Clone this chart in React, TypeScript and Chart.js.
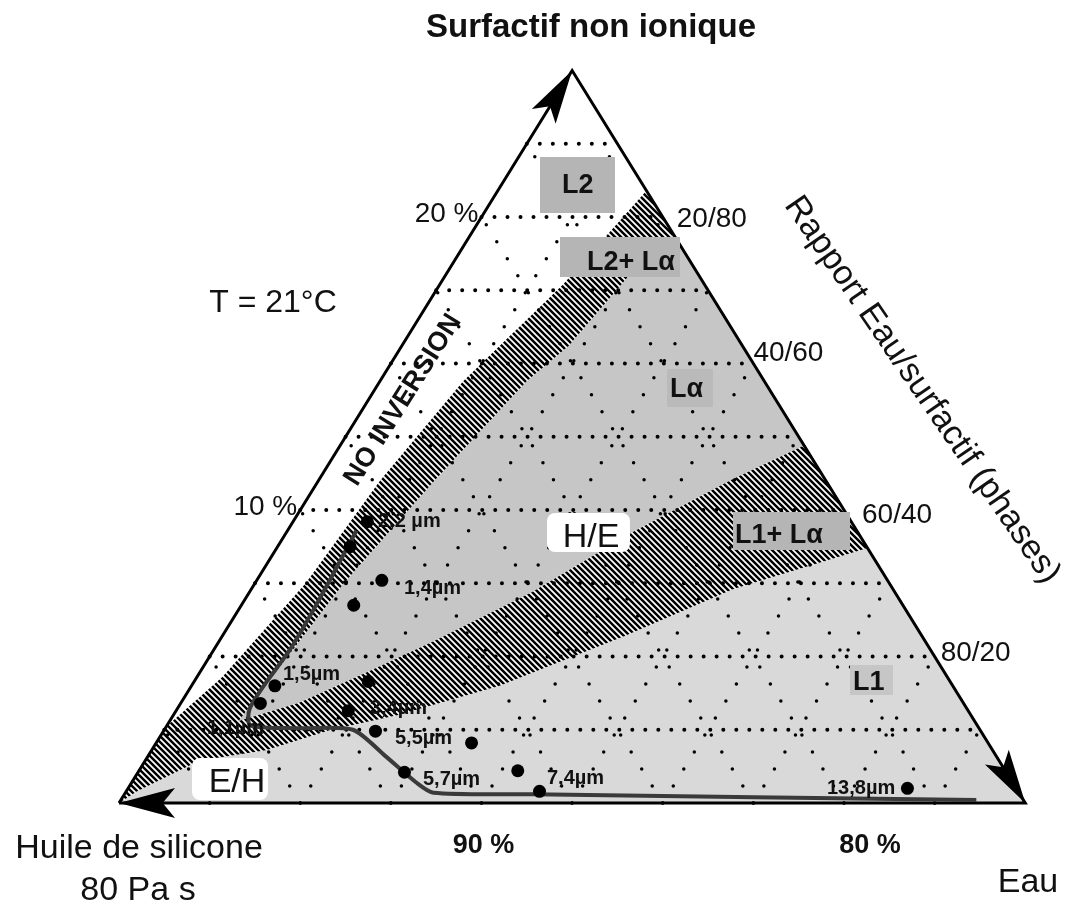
import { useEffect, useRef } from 'react';
import { Chart, registerables } from 'chart.js';

Chart.register(...registerables);

// ---------- DATA : compositions are [water %, surfactant %]; silicone oil = 100 - water - surfactant ----------
const TRIANGLE = [[0, 0], [0, 25], [25, 0], [0, 0]];
const GRID_STEPS = [2.5, 5, 7.5, 10, 12.5, 15, 17.5, 20, 22.5];

const SURF_TICKS = [10, 20];
const SURF_TICK_LABELS = ['10 %', '20 %'];
const OIL_TICKS = [90, 80];
const OIL_TICK_LABELS = ['90 %', '80 %'];
const RATIO_TICKS = [0.2, 0.4, 0.6, 0.8]; // water / (water + surfactant)
const RATIO_TICK_LABELS = ['20/80', '40/60', '60/40', '80/20'];

// phase boundaries (hatched two-phase bands)
const BAND1_LEFT = [[0, 0], [0, 2.6], [0.7, 4.3], [1.4, 7.5], [1.7, 11.0], [2.3, 14.4], [3.4, 17.7], [4.1, 20.9]];
const BAND1_RIGHT = [[5.6, 19.4], [5.05, 17.9], [4.6, 15.6], [4.05, 14.4], [3.2, 11.0], [2.45, 7.5], [2.05, 4.1], [1.9, 2.8]];
const BAND2_UPPER = [[1.9, 2.8], [3.26, 3.42], [4.6, 4.45], [5.9, 5.5], [7.8, 7.2], [9.55, 9.25], [11.4, 11.05], [12.8, 12.2]];
const BAND2_LOWER = [[16.3, 8.7], [13.3, 7.3], [11.1, 5.7], [8.5, 4.0], [6.2, 3.0], [4.6, 2.5], [3.15, 1.8], [1.5, 1.45], [0.3, 0.4], [0, 0]];

// emulsification path and measured droplets
const PATH = [[1.9, 9.3], [2.05, 6.95], [2.1, 5.25], [2.0, 4.1], [2.0, 3.2], [2.3, 2.65], [3.7, 2.55], [5.2, 2.5], [6.55, 1.6], [7.85, 0.7], [8.5, 0.35], [11.25, 0.3], [23.6, 0.1]];
const DROPLETS = [[2.05, 9.6], [2.0, 8.75], [3.45, 7.6], [3.1, 6.75], [2.3, 4.0], [2.2, 3.4], [4.8, 4.15], [4.75, 3.15], [5.85, 2.45], [8.7, 2.05], [7.35, 1.05], [10.45, 1.1], [11.4, 0.4], [21.5, 0.5]];
const SIZE_LABELS = ['2,2 µm', '1,4µm', '1,5µm', '1,1µm', '3,4µm', '5,5µm', '5,7µm', '7,4µm', '13,8µm'];

// ---------- LAYOUT ----------
const W_PX = 1074;
const H_PX = 905;
const X_MIN = -119 / 36.25;
const X_MAX = (W_PX - 119) / 36.25;
const Y_MIN = (803 - H_PX) / 29.3;
const Y_MAX = 803 / 29.3;
const FONT = '"Liberation Sans", Arial, Helvetica, sans-serif';
const INK = '#111111';

const SIZE_LABEL_POS = [[378, 527], [404, 594], [283, 680], [207, 734], [370, 714], [395, 744], [423, 785], [547, 784], [827, 794]];
const RATIO_NUDGE = [[14, 10], [0, -3], [18, 13], [6, 4]];
const OIL_NUDGE = [[2, 50], [26, 50]];

const toXY = (p: number[]) => ({ x: p[0] + p[1] / 2, y: p[1] });
const GAP = { x: null as any, y: null as any };

function makeHatch(ctx: CanvasRenderingContext2D) {
  const c = document.createElement('canvas');
  c.width = 6;
  c.height = 6;
  const g = c.getContext('2d')!;
  g.fillStyle = '#ffffff';
  g.fillRect(0, 0, 6, 6);
  g.strokeStyle = '#000000';
  g.lineWidth = 2.5;
  g.beginPath();
  for (let k = -1; k <= 1; k++) {
    g.moveTo(-2, -2 + 6 * k);
    g.lineTo(8, 8 + 6 * k);
  }
  g.stroke();
  return ctx.createPattern(c, 'repeat')!;
}

function pix(chart: any, p: number[]) {
  const q = toXY(p);
  return [chart.scales.x.getPixelForValue(q.x), chart.scales.y.getPixelForValue(q.y)];
}

function polygon(ctx: CanvasRenderingContext2D, pts: number[][], fill: any) {
  ctx.beginPath();
  pts.forEach((p, i) => (i ? ctx.lineTo(p[0], p[1]) : ctx.moveTo(p[0], p[1])));
  ctx.closePath();
  ctx.fillStyle = fill;
  ctx.fill();
}

function arrowHead(ctx: CanvasRenderingContext2D, tip: number[], from: number[], len: number, half: number) {
  const dx = tip[0] - from[0];
  const dy = tip[1] - from[1];
  const d = Math.hypot(dx, dy);
  const ux = dx / d;
  const uy = dy / d;
  const bx = tip[0] - ux * len;
  const by = tip[1] - uy * len;
  ctx.beginPath();
  ctx.moveTo(tip[0], tip[1]);
  ctx.lineTo(bx - uy * half, by + ux * half);
  ctx.lineTo(tip[0] - ux * len * 0.78, tip[1] - uy * len * 0.78);
  ctx.lineTo(bx + uy * half, by - ux * half);
  ctx.closePath();
  ctx.fillStyle = '#000';
  ctx.fill();
}

function text(ctx: CanvasRenderingContext2D, t: string, x: number, y: number, font: string, align: CanvasTextAlign = 'left', rot = 0, baseline: CanvasTextBaseline = 'alphabetic') {
  ctx.save();
  ctx.translate(x, y);
  if (rot) ctx.rotate((rot * Math.PI) / 180);
  ctx.font = font;
  ctx.textAlign = align;
  ctx.textBaseline = baseline;
  ctx.fillStyle = INK;
  ctx.fillText(t, 0, 0);
  ctx.restore();
}

function box(ctx: CanvasRenderingContext2D, x: number, y: number, w: number, h: number, color: string, r = 0) {
  ctx.beginPath();
  if (r && (ctx as any).roundRect) (ctx as any).roundRect(x, y, w, h, r);
  else ctx.rect(x, y, w, h);
  ctx.fillStyle = color;
  ctx.fill();
}

export default function App() {
  const ref = useRef<HTMLCanvasElement>(null);

  useEffect(() => {
    const canvas = ref.current!;
    const hatch = makeHatch(canvas.getContext('2d')!);

    const regionPlugin = {
      id: 'regions',
      beforeDatasetsDraw(chart: any) {
        const ctx = chart.ctx as CanvasRenderingContext2D;
        const P = (arr: number[][]) => arr.map((p) => pix(chart, p));
        ctx.save();
        polygon(ctx, P([...BAND2_LOWER.slice().reverse(), [25, 0]]), '#d9d9d9');
        polygon(ctx, P([...BAND1_RIGHT, ...BAND2_UPPER.slice(1)]), '#c6c6c6');
        polygon(ctx, P([...BAND1_LEFT, ...BAND1_RIGHT, ...BAND2_UPPER.slice(1), ...BAND2_LOWER]), hatch);
        ctx.restore();
      },
    };

    const annotatePlugin = {
      id: 'annotate',
      afterDatasetsDraw(chart: any) {
        const ctx = chart.ctx as CanvasRenderingContext2D;
        ctx.save();
        // arrow heads on the three axes
        const O = pix(chart, TRIANGLE[0]);
        const T = pix(chart, TRIANGLE[1]);
        const R = pix(chart, TRIANGLE[2]);
        arrowHead(ctx, T, O, 54, 14);
        arrowHead(ctx, R, T, 54, 14);
        arrowHead(ctx, O, R, 56, 15);

        // phase label boxes
        box(ctx, 540, 157, 75, 56, '#b5b5b5');
        box(ctx, 560, 237, 120, 40, '#b5b5b5');
        box(ctx, 667, 369, 46, 38, '#bababa');
        box(ctx, 733, 512, 117, 38, '#b5b5b5');
        box(ctx, 850, 665, 43, 30, '#c6c6c6');
        box(ctx, 547, 513, 83, 39, '#ffffff', 8);
        box(ctx, 192, 758, 76, 42, '#ffffff', 8);

        const B27 = `bold 27px ${FONT}`;
        text(ctx, 'L2', 562, 193, B27);
        text(ctx, 'L2+ Lα', 587, 270, B27);
        text(ctx, 'Lα', 670, 397, B27);
        text(ctx, 'L1+ Lα', 735, 543, B27);
        text(ctx, 'L1', 853, 690, B27);
        text(ctx, 'H/E', 591, 547, `34px ${FONT}`, 'center');
        text(ctx, 'E/H', 237, 792, `34px ${FONT}`, 'center');

        // titles
        text(ctx, 'Surfactif non ionique', 591, 37, `bold 33px ${FONT}`, 'center');
        text(ctx, 'T = 21°C', 273, 312, `32px ${FONT}`, 'center');
        text(ctx, 'Huile de silicone', 139, 858, `34px ${FONT}`, 'center');
        text(ctx, '80 Pa s', 138, 900, `34px ${FONT}`, 'center');
        text(ctx, 'Eau', 1028, 892, `34px ${FONT}`, 'center');
        text(ctx, 'NO INVERSION', 403, 400, `bold 27px ${FONT}`, 'center', -57.9, 'middle');
        text(ctx, 'Rapport Eau/surfactif (phases)', 922, 390, `34px ${FONT}`, 'center', 55.5, 'middle');

        // axis ticks
        SURF_TICKS.forEach((s, i) => {
          const p = pix(chart, [0, s]);
          text(ctx, SURF_TICK_LABELS[i], p[0] - 3, p[1] + 5, `28px ${FONT}`, 'right');
        });
        OIL_TICKS.forEach((o, i) => {
          const p = pix(chart, [100 - o, 0]);
          text(ctx, OIL_TICK_LABELS[i], p[0] + OIL_NUDGE[i][0], p[1] + OIL_NUDGE[i][1], `bold 27px ${FONT}`, 'center');
        });
        RATIO_TICKS.forEach((r, i) => {
          const p = pix(chart, [25 * r, 25 * (1 - r)]);
          text(ctx, RATIO_TICK_LABELS[i], p[0] + RATIO_NUDGE[i][0], p[1] + RATIO_NUDGE[i][1], `28px ${FONT}`);
        });

        // droplet size labels
        SIZE_LABELS.forEach((t, i) => {
          text(ctx, t, SIZE_LABEL_POS[i][0], SIZE_LABEL_POS[i][1], `bold 20px ${FONT}`);
        });
        ctx.restore();
      },
    };

    const hGrid = GRID_STEPS.flatMap((s) => [toXY([0, s]), toXY([25 - s, s]), GAP]);
    const wGrid = GRID_STEPS.flatMap((w) => [toXY([w, 0]), toXY([w, 25 - w]), GAP]);
    const oGrid = GRID_STEPS.flatMap((c) => [toXY([c, 0]), toXY([0, c]), GAP]);

    const chart = new Chart(canvas, {
      type: 'scatter',
      data: {
        datasets: [
          {
            label: 'droplets',
            data: DROPLETS.map(toXY),
            pointRadius: 6.5,
            pointBackgroundColor: '#000',
            pointBorderWidth: 0,
            showLine: false,
            order: 1,
          } as any,
          {
            label: 'path',
            data: PATH.map(toXY),
            showLine: true,
            borderColor: '#3a3a3a',
            borderWidth: 4,
            tension: 0.25,
            pointRadius: 0,
            order: 2,
          },
          {
            label: 'triangle',
            data: TRIANGLE.map(toXY),
            showLine: true,
            borderColor: '#000',
            borderWidth: 3,
            pointRadius: 0,
            order: 3,
          },
          {
            label: 'grid-h',
            data: hGrid,
            showLine: true,
            spanGaps: false,
            borderColor: '#000',
            borderWidth: 4,
            borderDash: [0, 13],
            borderCapStyle: 'round',
            pointRadius: 0,
            order: 4,
          },
          {
            label: 'grid-w',
            data: wGrid,
            showLine: true,
            spanGaps: false,
            borderColor: '#000',
            borderWidth: 3.5,
            borderDash: [0, 20],
            borderCapStyle: 'round',
            pointRadius: 0,
            order: 5,
          },
          {
            label: 'grid-o',
            data: oGrid,
            showLine: true,
            spanGaps: false,
            borderColor: '#000',
            borderWidth: 3.5,
            borderDash: [0, 20],
            borderCapStyle: 'round',
            pointRadius: 0,
            order: 6,
          },
        ] as any,
      },
      options: {
        responsive: false,
        animation: false,
        events: [],
        layout: { padding: 0, autoPadding: false },
        scales: {
          x: { type: 'linear', min: X_MIN, max: X_MAX, display: false },
          y: { type: 'linear', min: Y_MIN, max: Y_MAX, display: false },
        },
        plugins: { legend: { display: false }, tooltip: { enabled: false } },
      } as any,
      plugins: [regionPlugin, annotatePlugin],
    });

    return () => chart.destroy();
  }, []);

  return (
    <div style={{ position: 'fixed', left: 0, top: 0, width: W_PX, height: H_PX, background: '#fff' }}>
      <canvas ref={ref} width={W_PX} height={H_PX} style={{ display: 'block' }} />
    </div>
  );
}
